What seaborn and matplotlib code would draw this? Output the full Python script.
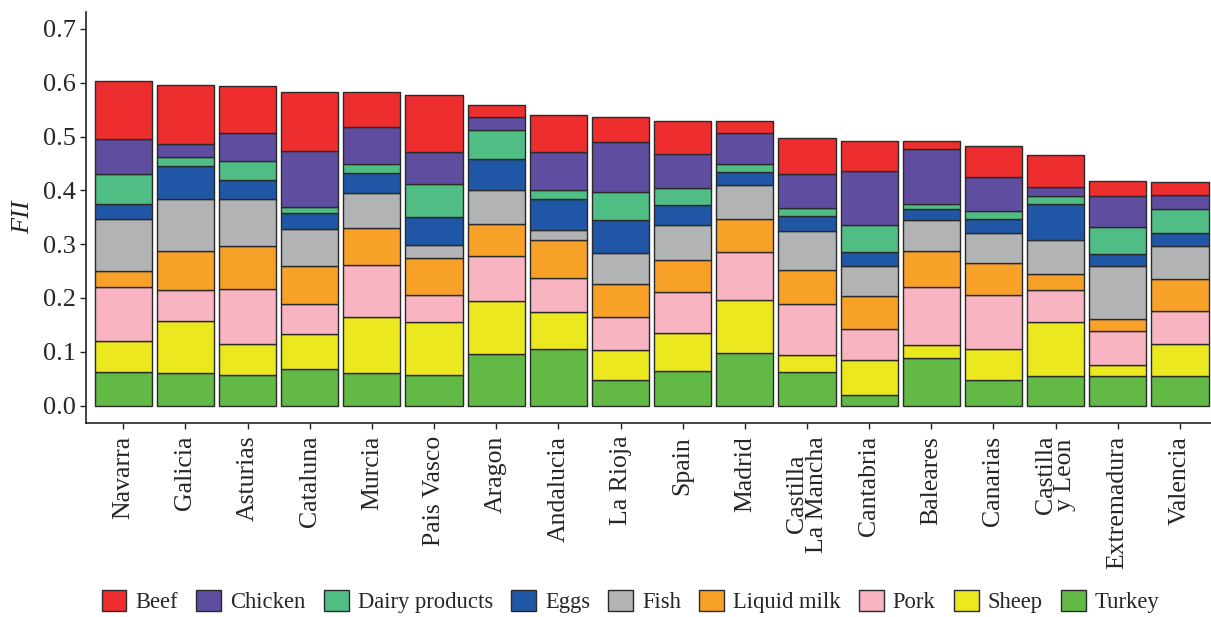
import matplotlib
matplotlib.use("Agg")
import matplotlib.pyplot as plt
import matplotlib.patches as mpatches
import numpy as np
import pandas as pd
import seaborn as sns

regions = ["Navarra", "Galicia", "Asturias", "Cataluna", "Murcia", "Pais Vasco",
           "Aragon", "Andalucia", "La Rioja", "Spain", "Madrid", "Castilla\nLa Mancha",
           "Cantabria", "Baleares", "Canarias", "Castilla\ny Leon", "Extremadura",
           "Valencia"]

# segment heights, bottom of stack first
turkey = [0.063, 0.060, 0.057, 0.067, 0.060, 0.056, 0.095, 0.105, 0.048, 0.064, 0.098, 0.062,
          0.019, 0.089, 0.048, 0.055, 0.055, 0.055]
sheep = [0.057, 0.098, 0.058, 0.066, 0.104, 0.099, 0.100, 0.069, 0.056, 0.070, 0.099, 0.031,
         0.066, 0.024, 0.057, 0.100, 0.020, 0.060]
pork = [0.101, 0.056, 0.102, 0.055, 0.098, 0.050, 0.083, 0.063, 0.060, 0.077, 0.088, 0.096,
        0.058, 0.107, 0.100, 0.060, 0.063, 0.061]
liquid_milk = [0.029, 0.073, 0.080, 0.072, 0.068, 0.069, 0.059, 0.070, 0.061, 0.060, 0.062, 0.063,
               0.061, 0.068, 0.059, 0.030, 0.023, 0.059]
fish = [0.096, 0.097, 0.087, 0.068, 0.065, 0.024, 0.064, 0.020, 0.059, 0.064, 0.062, 0.073,
        0.056, 0.056, 0.057, 0.062, 0.099, 0.062]
eggs = [0.029, 0.062, 0.035, 0.030, 0.037, 0.052, 0.058, 0.056, 0.060, 0.038, 0.025, 0.027,
        0.025, 0.021, 0.025, 0.067, 0.021, 0.023]
dairy = [0.056, 0.016, 0.036, 0.011, 0.017, 0.061, 0.053, 0.018, 0.052, 0.032, 0.015, 0.016,
         0.051, 0.010, 0.016, 0.015, 0.050, 0.046]
chicken = [0.065, 0.025, 0.051, 0.104, 0.068, 0.061, 0.025, 0.070, 0.094, 0.062, 0.057, 0.063,
           0.099, 0.102, 0.063, 0.018, 0.058, 0.026]
beef = [0.107, 0.109, 0.087, 0.110, 0.066, 0.105, 0.022, 0.069, 0.046, 0.062, 0.023, 0.067,
        0.057, 0.015, 0.058, 0.058, 0.028, 0.023]

stack = [("Turkey", turkey, "#62b946"),
         ("Sheep", sheep, "#ebe81f"),
         ("Pork", pork, "#f8b4c0"),
         ("Liquid milk", liquid_milk, "#f7a128"),
         ("Fish", fish, "#b1b3b4"),
         ("Eggs", eggs, "#1f56a5"),
         ("Dairy products", dairy, "#50bd84"),
         ("Chicken", chicken, "#5f4e9f"),
         ("Beef", beef, "#ee2e2e")]


def main():
    sns.set_style("ticks")
    plt.rcParams["font.family"] = ["Liberation Serif", "DejaVu Serif"]
    plt.rcParams["font.size"] = 15

    fig = plt.figure(figsize=(12.11, 6.17), dpi=100)
    ax = fig.add_axes([0.071, 0.314, 0.929, 0.667])

    bottom = np.zeros(len(regions))
    for name, vals, color in stack:
        df = pd.DataFrame({"region": regions, "FII": vals})
        sns.barplot(data=df, x="region", y="FII", order=regions, color=color,
                    width=0.92, bottom=bottom, edgecolor="#2a2a2a", linewidth=1.0,
                    saturation=1, ax=ax, errorbar=None)
        bottom = bottom + np.array(vals)

    ax.set_ylim(-0.033, 0.732)
    ax.set_xlim(-0.6, 17.5)
    ax.set_yticks(np.arange(0, 0.71, 0.1))
    ax.set_yticklabels([f"{v:.1f}" for v in np.arange(0, 0.71, 0.1)], fontsize=19)
    ax.set_xticks(range(len(regions)))
    ax.set_xticklabels(regions, rotation=90, fontsize=18.5, linespacing=0.85)
    ax.set_xlabel("")
    ax.set_ylabel("FII", fontstyle="italic", fontsize=19, labelpad=6)
    ax.tick_params(axis="both", length=4, width=1, color="#222222")
    ax.tick_params(axis="x", pad=5)
    for s in ["left", "bottom"]:
        ax.spines[s].set_linewidth(1.2)
        ax.spines[s].set_color("#222222")
    sns.despine(ax=ax)

    handles = [mpatches.Patch(facecolor=c, edgecolor="#2a2a2a", label=n)
               for n, v, c in stack[::-1]]
    ax.legend(handles=handles, loc="center", bbox_to_anchor=(0.484, -0.433), ncol=9,
              frameon=False, fontsize=16.3, handlelength=1.1, handleheight=1.1,
              handletextpad=0.4, columnspacing=0.8)

    fig.savefig("out.png", dpi=100)


if __name__ == "__main__":
    main()
